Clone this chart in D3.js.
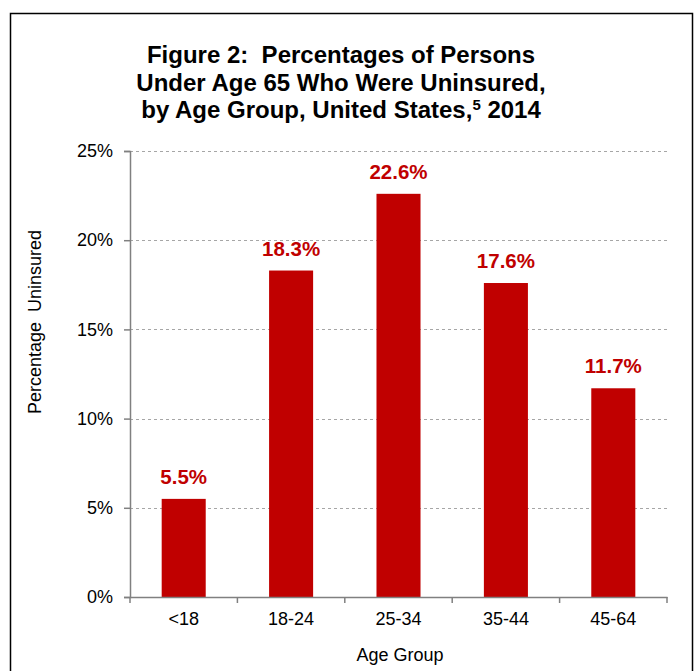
<!DOCTYPE html>
<html>
<head>
<meta charset="utf-8">
<script src="https://cdn.jsdelivr.net/npm/d3@7/dist/d3.min.js"></script>
<style>
  html, body { margin: 0; padding: 0; background: #fff; }
  svg { display: block; font-family: "Liberation Sans", Arial, sans-serif; }
</style>
</head>
<body>
<svg id="chart" width="694" height="671"></svg>
<script>
const categories = ["<18", "18-24", "25-34", "35-44", "45-64"];
const values = [5.5, 18.3, 22.6, 17.6, 11.7];
const yTicks = [0, 5, 10, 15, 20, 25];
const titleLines = ["Figure 2:  Percentages of Persons", "Under Age 65 Who Were Uninsured,"];
const titleLast = ["by Age Group, United States,", "5", " 2014"];
const yTitle = "Percentage  Uninsured";
const xTitle = "Age Group";

const svg = d3.select("#chart");

// frame
svg.append("rect")
  .attr("x", 10.5).attr("y", 13.5)
  .attr("width", 682).attr("height", 700)
  .attr("fill", "none").attr("stroke", "#000").attr("stroke-width", 1.5);

const x = d3.scaleBand().domain(categories).range([130, 667])
  .paddingInner(0.59).paddingOuter(0.295);
const y = d3.scaleLinear().domain([0, 25]).range([597, 151]);

// grid
svg.append("g").selectAll("line").data(yTicks.filter(d => d > 0)).join("line")
  .attr("x1", 130).attr("x2", 667)
  .attr("y1", d => Math.round(y(d)) + 0.5).attr("y2", d => Math.round(y(d)) + 0.5)
  .attr("stroke", "#a6a6a6").attr("stroke-width", 1).attr("stroke-dasharray", "3,3");

// bars
svg.append("g").selectAll("rect").data(values).join("rect")
  .attr("x", (d, i) => x(categories[i]))
  .attr("y", d => y(d))
  .attr("width", x.bandwidth())
  .attr("height", d => y(0) - y(d))
  .attr("fill", "#C00000");

// value labels
svg.append("g").selectAll("text").data(values).join("text")
  .attr("x", (d, i) => x(categories[i]) + x.bandwidth() / 2)
  .attr("y", d => y(d) - 15)
  .attr("text-anchor", "middle")
  .attr("font-size", 20.5).attr("font-weight", "bold")
  .attr("fill", "#C00000")
  .text(d => d.toFixed(1) + "%");

// y axis
const yAxis = svg.append("g").attr("transform", "translate(130,0)")
  .call(d3.axisLeft(y).tickValues(yTicks).tickFormat(d => d + "%").tickSize(6).tickPadding(11));
yAxis.select(".domain").attr("stroke", "#808080").attr("stroke-width", 1.5);
yAxis.selectAll(".tick line").attr("stroke", "#808080").attr("stroke-width", 1.5);
yAxis.selectAll(".tick text").attr("font-size", 18).attr("fill", "#000")
  .attr("font-family", "Liberation Sans, Arial, sans-serif");

// x axis
const xAxis = svg.append("g").attr("transform", "translate(0,597)")
  .call(d3.axisBottom(x).tickSize(0).tickPadding(15));
xAxis.select(".domain").attr("stroke", "#808080").attr("stroke-width", 1.5);
xAxis.selectAll(".tick text").attr("font-size", 18).attr("fill", "#000")
  .attr("font-family", "Liberation Sans, Arial, sans-serif");
const bounds = d3.range(categories.length + 1).map(i => x.range()[0] + i * x.step());
xAxis.selectAll(".bound").data(bounds).join("line").attr("class", "bound")
  .attr("x1", d => d).attr("x2", d => d).attr("y1", 0).attr("y2", 6)
  .attr("stroke", "#808080").attr("stroke-width", 1.5);

// title
const title = svg.append("text").attr("text-anchor", "middle")
  .attr("font-size", 24).attr("font-weight", "bold").attr("fill", "#000")
  .style("white-space", "pre");
titleLines.forEach((t, i) => {
  title.append("tspan").attr("x", 341).attr("y", 63 + i * 27.5).text(t);
});
const last = title.append("tspan").attr("x", 341).attr("y", 118);
last.append("tspan").text(titleLast[0]);
last.append("tspan").attr("font-size", 15).attr("dy", -8).text(titleLast[1]);
last.append("tspan").attr("dy", 8).text(titleLast[2]);

// axis titles
svg.append("text")
  .attr("transform", "translate(41,322) rotate(-90)")
  .attr("text-anchor", "middle").attr("font-size", 18).attr("fill", "#000")
  .style("white-space", "pre")
  .text(yTitle);

svg.append("text")
  .attr("x", 400).attr("y", 661)
  .attr("text-anchor", "middle").attr("font-size", 18).attr("fill", "#000")
  .text(xTitle);
</script>
</body>
</html>
